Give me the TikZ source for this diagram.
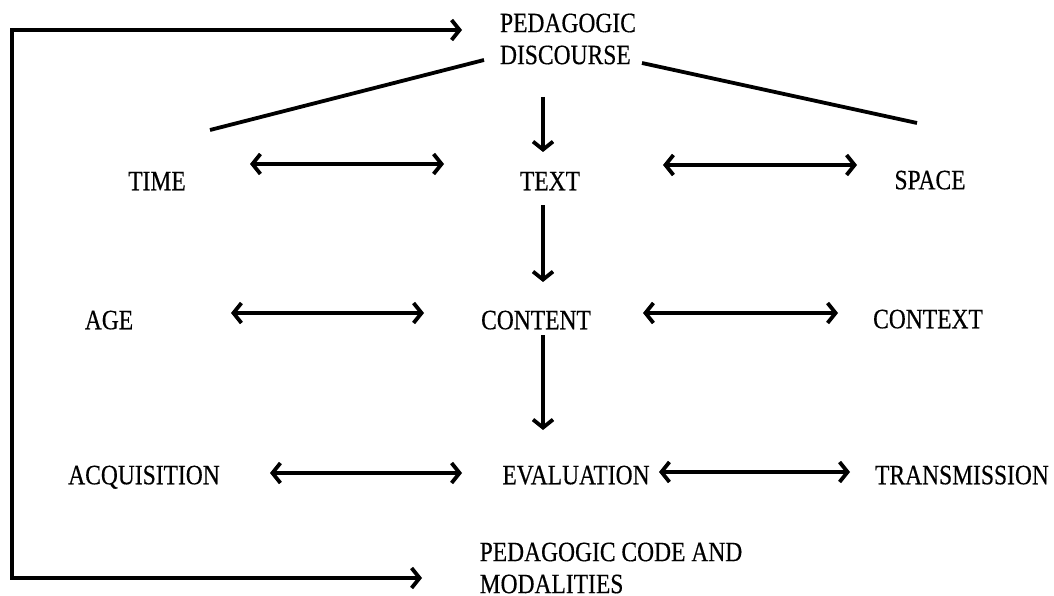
\documentclass[tikz,border=0pt]{standalone}
\usepackage{fontspec}
\setmainfont{Liberation Serif}[FakeStretch=0.84,FakeBold=0.4]
\usetikzlibrary{arrows.meta}
\begin{document}
\begin{tikzpicture}[x=1pt,y=-1pt,
  lbl/.style={inner sep=0pt, text height=18.5pt, text depth=0pt,
    font=\fontsize{28}{32}\selectfont},
  lbl2/.style={inner sep=0pt, align=left,
    font=\fontsize{28}{32}\selectfont},
  conn/.style={line width=3.8pt},
  >={Straight Barb[length=8pt,width=20pt]}]
\useasboundingbox (0,0) rectangle (1054,596);

% concept labels
\node[lbl2] (pd) at (568,39) {PEDAGOGIC\\DISCOURSE};
\node[lbl] (time) at (157,181) {TIME};
\node[lbl] (text) at (550,181) {TEXT};
\node[lbl] (space) at (930,180) {SPACE};
\node[lbl] (age) at (109,320) {AGE};
\node[lbl] (content) at (536,320) {CONTENT};
\node[lbl] (context) at (928,319) {CONTEXT};
\node[lbl] (acq) at (144,475) {ACQUISITION};
\node[lbl] (eval) at (576,475) {EVALUATION};
\node[lbl] (trans) at (962,475) {TRANSMISSION};
\node[lbl2] (pcm) at (611,568) {PEDAGOGIC CODE AND\\MODALITIES};

\coordinate (loop) at (12,578);

% branches from pedagogic discourse
\draw[conn] ([shift={(-84,21)}]pd.center) -- ([shift={(53,-51)}]time.center);
\draw[conn] ([shift={(74,24)}]pd.center) -- ([shift={(-13,-57)}]space.center);

% vertical flow down the centre
\draw[conn,->] ([shift={(-25,58)}]pd.center) -- ([shift={(-7,-29)}]text.center);
\draw[conn,->] ([shift={(-7,24)}]text.center) -- ([shift={(7,-38)}]content.center);
\draw[conn,->] ([shift={(7,15)}]content.center) -- ([shift={(-33,-45)}]eval.center);

% horizontal links
\draw[conn,<->] ([shift={(93,-17)}]time.center) -- ([shift={(-106,-17)}]text.center);
\draw[conn,<->] ([shift={(113,-16)}]text.center) -- ([shift={(-73,-15)}]space.center);
\draw[conn,<->] ([shift={(122,-7)}]age.center) -- ([shift={(-112,-7)}]content.center);
\draw[conn,<->] ([shift={(107,-7)}]content.center) -- ([shift={(-90,-6)}]context.center);
\draw[conn,<->] ([shift={(126,-2)}]acq.center) -- ([shift={(-114,-2)}]eval.center);
\draw[conn,<->] ([shift={(83,-3)}]eval.center) -- ([shift={(-112,-3)}]trans.center);

% outer feedback loop
\draw[conn,<->] ([shift={(-106,-9)}]pd.center) -| (loop) -- ([shift={(-189,10)}]pcm.center);
\end{tikzpicture}
\end{document}
